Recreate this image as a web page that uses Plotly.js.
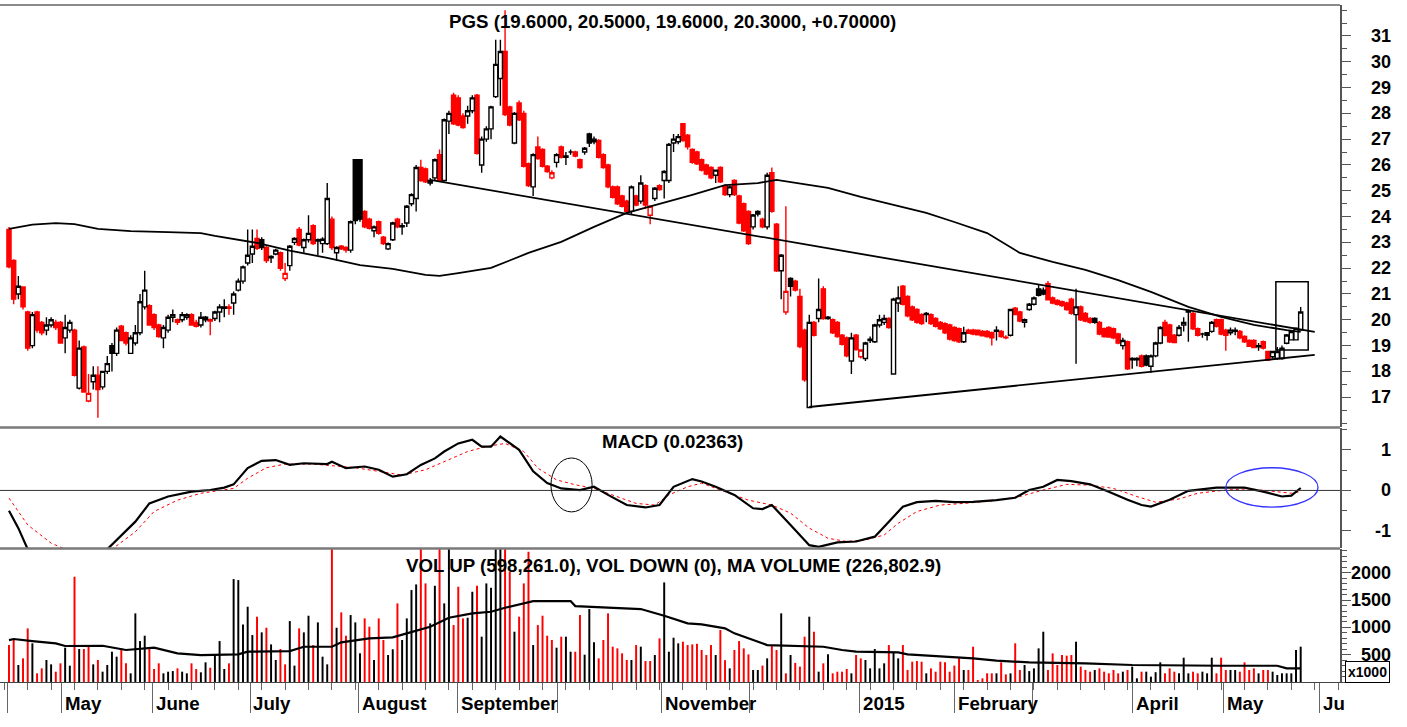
<!DOCTYPE html>
<html>
<head>
<meta charset="utf-8">
<script src="https://cdn.plot.ly/plotly-3.0.1.min.js"></script>
<style>html,body{margin:0;padding:0;background:#fff;}#chart{width:1407px;height:727px;}</style>
</head>
<body>
<div id="chart"></div>
<script>
// ---- Daily candles (trading-day index 0..276) ----
const opens = [
23.5,22.3,21.0,21.27,20.3,19.0,20.3,19.9,19.6,19.8,
19.9,19.9,19.3,19.6,19.6,17.35,18.95,16.85,17.6,17.85,
17.4,18.0,19.0,18.7,19.75,19.5,18.7,19.1,19.5,20.5,
20.55,20.2,19.8,19.3,19.6,20.1,20.0,20.0,20.1,20.2,
19.9,19.8,20.0,20.0,20.05,20.3,20.45,20.5,20.65,21.15,
21.5,22.2,22.55,23.15,23.1,22.8,22.4,22.55,22.6,21.6,
22.1,23.0,23.5,22.8,23.1,23.65,23.05,22.95,22.95,23.9,
22.6,22.85,22.8,22.7,26.2,26.2,24.2,23.9,23.45,23.8,
23.2,22.75,23.1,23.9,23.6,23.75,24.5,24.7,25.9,25.85,
25.3,25.5,26.4,25.4,27.7,28.7,28.6,27.9,27.9,28.1,
28.7,26.0,27.0,27.4,28.65,29.35,30.4,28.25,26.85,28.4,
28.0,26.05,25.15,26.7,26.6,25.95,25.5,26.1,26.7,26.3,
26.5,26.5,26.2,26.5,27.2,27.0,26.95,26.4,26.0,25.15,
25.15,24.8,24.6,24.2,24.8,24.6,25.2,24.05,24.7,25.2,
25.4,25.4,26.85,26.9,27.6,27.15,26.6,26.5,26.2,26.0,
25.9,25.6,25.9,25.2,24.85,25.4,24.8,24.5,24.2,23.6,
24.2,23.9,23.6,25.7,23.7,21.9,20.3,21.6,21.5,20.9,
19.6,16.6,19.9,20.05,21.2,20.1,20.0,19.9,19.4,19.3,
18.4,19.4,18.57,18.5,19.2,19.15,19.8,19.9,20.05,17.9,
20.65,21.3,20.9,20.5,20.4,20.2,20.2,20.2,20.05,19.9,
19.85,19.8,19.7,19.65,19.15,19.6,19.6,19.6,19.55,19.55,
19.5,19.55,19.55,19.3,19.4,20.45,20.3,19.9,20.4,20.6,
21.2,21.15,21.4,20.85,20.75,20.7,20.65,20.8,20.2,20.5,
20.25,20.05,20.05,19.9,19.65,19.7,19.65,19.45,19.0,19.15,
18.45,18.45,18.6,18.6,18.2,18.6,19.1,19.9,19.8,19.4,
19.4,19.8,20.35,20.25,19.65,19.45,19.4,19.55,20.0,20.0,
19.6,19.5,19.55,19.55,19.35,19.2,19.2,19.0,19.15,18.77,
18.57,18.5,18.5,19.09,19.22,19.22,19.6];
const highs = [
23.6,22.35,21.7,21.3,20.35,20.3,20.35,19.95,20.1,20.1,
20.0,19.95,20.2,20.0,19.65,19.2,19.0,17.9,18.2,18.2,
18.0,18.6,19.1,19.7,19.8,19.55,19.4,19.8,21.0,21.9,
20.6,20.25,19.85,19.8,20.2,20.4,20.05,20.3,20.25,20.25,
20.0,20.3,20.15,20.05,20.35,20.6,20.8,20.6,21.1,21.6,
22.1,23.5,23.5,23.5,23.2,22.9,22.5,22.75,22.65,22.2,
22.9,23.2,23.6,23.15,24.05,23.7,23.15,23.2,25.3,24.0,
22.85,22.9,22.85,23.85,26.2,26.2,24.25,23.95,23.65,23.85,
23.25,23.0,23.8,23.95,23.75,24.45,24.9,26.0,26.2,25.9,
25.5,26.25,26.6,27.8,28.1,28.8,28.7,28.0,28.3,28.7,
28.75,27.1,27.5,28.3,30.85,30.85,32.0,28.3,28.05,28.5,
28.1,26.1,26.45,27.1,26.65,26.0,25.8,26.45,26.75,26.5,
26.6,26.55,26.25,26.7,27.25,27.1,27.0,26.45,26.05,25.2,
25.2,24.85,24.65,25.2,24.85,25.6,25.25,24.4,25.15,25.25,
25.8,26.85,27.2,27.2,27.6,27.2,26.65,26.55,26.25,26.05,
25.95,25.8,25.95,25.25,25.2,25.45,24.85,24.55,24.25,24.1,
24.25,23.95,25.7,25.9,23.75,22.55,24.4,21.65,21.55,21.2,
19.65,20.2,19.95,21.6,21.3,20.15,20.05,19.95,19.45,19.35,
19.5,19.45,18.85,19.15,19.35,19.85,20.2,20.2,20.1,20.85,
21.3,21.35,20.95,20.55,20.45,20.25,20.3,20.25,20.1,19.95,
19.9,19.85,19.75,19.7,19.73,19.65,19.65,19.62,19.6,19.6,
19.55,19.75,19.6,19.4,20.4,20.5,20.35,20.05,20.65,20.9,
21.35,21.25,21.5,20.9,20.8,20.75,20.7,20.85,21.2,20.55,
20.3,20.1,20.1,19.95,19.7,19.75,19.7,19.5,19.3,19.2,
18.55,18.55,18.65,18.65,18.65,19.15,19.75,20.0,19.85,19.45,
19.8,20.1,20.4,20.3,19.7,19.5,19.5,19.95,20.05,20.05,
19.65,19.7,19.7,19.6,19.4,19.25,19.25,19.1,19.2,18.8,
18.8,18.95,19.0,19.45,19.6,19.7,20.5];
const lows = [
22.0,20.6,20.8,20.4,18.8,18.9,19.5,19.4,19.4,19.7,
19.6,19.1,18.7,19.5,17.8,17.3,17.2,16.8,17.3,16.2,
17.3,17.9,18.0,18.6,19.2,19.0,18.7,19.0,19.4,20.4,
19.8,19.6,19.3,18.9,19.5,19.9,19.8,19.9,20.0,19.8,
19.7,19.7,19.9,19.4,19.95,19.9,20.1,20.2,20.2,21.1,
21.4,22.1,22.2,22.7,22.7,22.2,22.2,22.5,21.9,21.5,
21.9,22.9,22.85,22.6,23.0,22.9,22.5,22.6,22.9,22.7,
22.3,22.7,22.6,22.6,23.7,23.8,23.55,23.5,23.2,23.3,
22.9,22.7,23.05,23.55,23.3,23.6,24.4,24.2,25.35,25.3,
25.2,25.4,25.35,25.35,27.2,27.55,27.5,27.4,27.6,28.0,
26.4,25.7,26.9,27.0,28.6,28.3,27.9,27.5,26.8,27.7,
25.9,25.15,24.8,26.2,25.9,25.7,25.45,25.9,26.25,26.0,
26.4,26.3,25.85,26.4,26.7,26.8,26.25,25.85,25.1,24.7,
24.45,24.35,24.15,24.1,24.4,24.5,24.3,23.7,24.6,25.0,
24.7,25.3,26.5,26.8,26.9,26.6,26.05,26.0,25.75,25.6,
25.45,25.3,25.3,24.8,24.75,24.8,23.7,23.4,22.9,23.5,
24.0,23.55,23.5,24.15,21.85,20.8,20.2,20.9,21.1,18.9,
17.6,16.6,19.35,19.9,20.0,20.0,19.45,19.3,19.0,18.55,
17.9,18.8,18.5,18.4,19.1,19.1,19.7,19.8,19.65,17.9,
20.3,20.55,20.1,19.95,19.85,19.8,19.9,19.8,19.7,19.6,
19.45,19.2,19.15,19.1,19.1,19.45,19.4,19.4,19.35,19.3,
19.0,19.2,19.3,19.25,19.35,20.2,19.9,19.7,20.35,20.55,
20.9,20.95,20.75,20.6,20.55,20.5,20.35,20.2,18.3,19.95,
19.9,19.85,19.85,19.4,19.3,19.3,19.25,19.05,18.85,18.05,
18.1,18.2,18.15,18.2,17.95,18.55,19.05,19.35,19.1,19.1,
19.35,19.55,19.15,19.6,19.35,19.3,19.2,19.5,19.7,19.4,
18.8,19.4,19.4,19.25,19.1,18.95,18.9,18.8,18.85,18.4,
18.5,18.45,18.45,19.05,19.2,19.2,19.6];
const closes = [
22.05,20.8,21.3,20.5,18.9,20.2,19.6,19.5,19.8,20.0,
19.7,19.1,19.7,19.9,17.85,18.9,17.2,17.15,17.85,17.3,
18.0,18.3,18.7,19.6,19.2,19.1,19.3,19.5,20.7,21.15,
19.8,19.7,19.35,19.7,20.1,20.2,19.9,20.2,20.2,19.8,
19.75,20.1,20.1,19.95,20.3,20.5,20.5,20.45,21.0,21.5,
22.05,22.5,22.85,22.77,22.8,22.3,22.45,22.7,22.0,21.8,
22.85,23.15,22.9,23.1,23.35,22.95,23.1,23.12,24.7,22.8,
22.8,22.75,22.7,23.8,23.85,23.9,23.6,23.55,23.6,23.35,
22.95,22.95,23.75,23.6,23.65,24.4,24.85,25.9,25.4,25.35,
25.4,26.2,25.4,27.75,28.0,27.6,27.55,27.45,28.1,28.6,
26.45,27.0,27.4,28.25,29.9,30.4,27.95,27.55,28.0,27.75,
25.95,25.2,26.4,26.25,25.95,25.75,25.7,26.4,26.3,26.35,
26.5,26.35,25.9,26.65,26.85,26.9,26.3,25.9,25.15,24.75,
24.5,24.4,24.2,25.15,24.45,25.3,24.45,24.4,25.1,25.05,
25.75,26.8,27.0,27.1,26.95,26.7,26.1,26.05,25.8,25.65,
25.5,25.8,25.35,24.85,25.15,24.85,23.75,23.45,22.95,24.06,
24.1,23.6,25.6,24.2,21.9,22.5,21.1,21.3,21.15,18.96,
17.67,19.9,19.4,20.4,20.05,20.05,19.5,19.35,19.05,18.6,
19.3,18.85,18.83,19.1,19.25,19.8,20.0,20.05,19.7,20.8,
20.85,20.6,20.15,20.0,19.9,19.85,20.25,19.85,19.75,19.65,
19.5,19.25,19.2,19.15,19.5,19.48,19.45,19.42,19.38,19.35,
19.3,19.6,19.35,19.33,20.4,20.2,19.95,20.0,20.6,20.85,
20.95,21.0,20.77,20.65,20.6,20.55,20.4,20.25,20.5,20.0,
19.95,19.9,19.9,19.45,19.35,19.33,19.3,19.1,19.2,18.1,
18.5,18.5,18.2,18.25,18.6,19.1,19.7,19.4,19.15,19.12,
19.7,19.9,20.3,19.65,19.4,19.45,19.5,19.9,19.75,19.45,
19.4,19.6,19.6,19.3,19.15,18.97,18.92,18.95,18.9,18.44,
18.77,18.77,18.9,19.41,19.54,19.67,20.3];
// daily volume, thousands of shares
const volumes = [
677,769,311,433,982,708,159,250,403,323,
189,342,628,299,1928,604,604,647,323,403,
189,311,555,464,616,342,159,1257,750,848,
604,238,342,159,189,200,250,189,159,342,
238,177,360,262,494,750,238,342,1885,1867,
1055,1379,860,1196,909,994,689,403,604,323,
1116,300,982,909,1214,677,1092,464,323,2600,
994,1275,848,1226,1092,525,1165,1013,403,1165,
769,494,600,1440,769,1165,1684,1787,2600,1806,
1074,1763,2600,1440,2600,1043,1745,1165,1177,1653,
1763,830,1806,1726,2600,2600,2600,2019,921,1196,
1806,2385,677,1043,1214,848,769,628,830,830,
555,555,1226,500,1336,726,433,769,1257,647,
616,525,403,403,677,647,384,384,494,799,
1824,555,811,708,738,677,689,700,586,494,
677,494,952,400,250,586,750,616,506,220,
220,300,433,665,586,1257,159,494,350,281,
830,1196,921,189,342,506,159,189,189,238,
159,494,433,403,250,604,250,342,677,543,
433,677,220,372,384,372,159,250,189,372,
360,189,300,433,220,220,647,37,67,159,
159,159,360,140,159,708,220,311,200,250,
616,921,220,525,311,494,482,494,738,281,
220,189,220,250,189,159,220,159,189,220,
281,67,189,189,98,180,360,159,250,189,
159,445,159,189,159,189,159,445,159,445,
220,220,220,189,360,220,250,159,220,220,
189,128,159,159,159,586,647];

// ---- Overlays: [dayIndex, value] ----
const priceMA = [[0,23.52],[5,23.69],[10,23.75],[14,23.71],[19,23.52],[26,23.44],[34,23.40],[41,23.36],[44,23.25],[48,23.13],[53,22.98],[60,22.68],[68,22.40],[75,22.12],[82,21.97],[89,21.74],[92,21.70],[96,21.81],[103,22.01],[111,22.59],[118,23.02],[125,23.60],[132,24.14],[139,24.49],[146,24.84],[153,25.22],[160,25.30],[164,25.42],[168,25.30],[175,25.11],[182,24.76],[189,24.45],[196,24.14],[202,23.79],[209,23.36],[216,22.59],[223,22.24],[230,21.93],[237,21.54],[244,21.08],[252,20.50],[259,20.11],[266,19.80],[273,19.60],[276,19.53]];
const upperTrend = [[90,25.42],[279,19.53]];
const lowerTrend = [[171,16.62],[279,18.64]];
const macdLine = [[0,-0.5],[2,-0.93],[4,-1.45],[8,-1.75],[14,-1.85],[19,-1.65],[21,-1.45],[24,-1.10],[27,-0.77],[30,-0.32],[34,-0.15],[39,-0.03],[43,0.01],[46,0.07],[48,0.15],[51,0.55],[54,0.73],[57,0.75],[60,0.63],[63,0.67],[68,0.65],[69,0.71],[72,0.55],[76,0.59],[79,0.51],[82,0.34],[85,0.40],[88,0.63],[91,0.79],[93,0.96],[96,1.16],[99,1.25],[101,1.08],[103,1.08],[105,1.33],[109,1.00],[112,0.47],[115,0.18],[118,0.05],[122,0.01],[125,0.09],[128,-0.11],[132,-0.36],[136,-0.42],[139,-0.36],[142,0.09],[146,0.28],[148,0.22],[151,0.09],[155,-0.11],[159,-0.44],[161,-0.46],[163,-0.36],[167,-0.85],[171,-1.35],[173,-1.39],[177,-1.28],[181,-1.26],[185,-1.14],[188,-0.77],[191,-0.40],[194,-0.29],[198,-0.26],[202,-0.29],[206,-0.28],[211,-0.24],[215,-0.18],[218,0.01],[221,0.09],[224,0.26],[227,0.23],[231,0.15],[235,-0.03],[239,-0.23],[242,-0.36],[244,-0.40],[248,-0.23],[252,-0.01],[258,0.07],[264,0.07],[268,-0.03],[272,-0.15],[274,-0.13],[276,0.06]];
const signalLine = [[0,-0.19],[4,-0.85],[9,-1.30],[12,-1.44],[15,-1.6],[19,-1.6],[22,-1.45],[27,-1.02],[31,-0.52],[36,-0.24],[41,-0.07],[48,0.05],[51,0.30],[55,0.56],[59,0.65],[65,0.65],[70,0.61],[74,0.56],[79,0.47],[84,0.38],[89,0.51],[93,0.71],[98,0.96],[102,1.08],[106,1.16],[110,0.96],[113,0.55],[117,0.26],[121,0.14],[125,0.05],[130,-0.15],[134,-0.32],[138,-0.36],[141,-0.11],[145,0.09],[148,0.18],[153,-0.03],[158,-0.24],[163,-0.36],[167,-0.56],[171,-0.93],[175,-1.18],[179,-1.26],[183,-1.22],[187,-1.10],[190,-0.81],[194,-0.52],[199,-0.36],[204,-0.32],[210,-0.26],[216,-0.15],[221,0.01],[226,0.15],[231,0.13],[236,0.05],[241,-0.15],[245,-0.29],[250,-0.21],[254,-0.07],[260,0.01],[265,0.04],[270,-0.03],[274,-0.07],[276,-0.03]];
const volumeMA = [[0,768],[1,787],[5,750],[10,708],[12,659],[20,664],[25,586],[31,628],[36,525],[41,494],[49,507],[51,555],[60,567],[63,646],[69,646],[71,726],[77,799],[82,818],[85,891],[90,1012],[94,1177],[99,1257],[103,1287],[106,1360],[112,1482],[120,1482],[121,1391],[131,1360],[135,1336],[140,1214],[145,1074],[148,1056],[153,982],[155,891],[159,769],[162,677],[174,646],[178,586],[181,555],[190,543],[192,507],[201,463],[206,433],[211,390],[218,360],[230,342],[240,311],[259,298],[271,298],[273,250],[276,250]];

// ---- Axis text ----
const monthBounds = [-0.4,11.3,30.6,51.5,74.6,95.9,117.1,139.5,158.3,181.8,202.1,218.8,240.0,259.6,280.1];
const monthLabelAt = [11.3,30.6,51.5,74.6,95.9,139.5,181.8,202.1,240.0,259.6,280.1];
const monthLabels = ['May','June','July','August','September','November','2015','February','April','May','Ju'];
const priceTicks = [17,18,19,20,21,22,23,24,25,26,27,28,29,30,31];
const macdTicks = [-1,0,1];
const macdTickText = ['-1','0','1'];
const volTicks = [500,1000,1500,2000];
const titleText = 'PGS (19.6000, 20.5000, 19.6000, 20.3000, +0.70000)';
const macdTitle = 'MACD (0.02363)';
const volTitle = 'VOL UP (598,261.0), VOL DOWN (0), MA VOLUME (226,802.9)';
// marked areas [x0, x1, y0, y1]
const breakoutBox = [270.7, 277.6, 18.83, 21.47];
const macdCircleBlack = [115.8, 124.6, -0.53, 0.80];
const macdCircleBlue = [260, 279.7, -0.41, 0.56];

// ---- build ----
const idx = closes.map((_, i) => i);
const upDay = closes.map((c, i) => i > 0 && c >= closes[i - 1]);
const sel = (arr, want) => arr.filter((_, i) => upDay[i] === want);
const FONT = 'Liberation Sans, Arial, sans-serif';

function candle(want, col) {
  return {
    type: 'candlestick', xaxis: 'x', yaxis: 'y',
    x: sel(idx, want), open: sel(opens, want), high: sel(highs, want),
    low: sel(lows, want), close: sel(closes, want),
    increasing: {line: {color: col, width: 1.4}, fillcolor: '#ffffff'},
    decreasing: {line: {color: col, width: 1.4}, fillcolor: col},
    whiskerwidth: 0, hoverinfo: 'skip'
  };
}
const line = (pts, yaxis, color, width, dash) => ({
  type: 'scatter', mode: 'lines', xaxis: 'x', yaxis: yaxis,
  x: pts.map(p => p[0]), y: pts.map(p => p[1]),
  line: {color: color, width: width, dash: dash || 'solid'}, hoverinfo: 'skip'
});

const traces = [
  {type: 'bar', xaxis: 'x', yaxis: 'y3', x: idx, y: volumes, width: 0.42,
   marker: {color: upDay.map(u => u ? '#000000' : '#ff0000'), line: {width: 0}}, hoverinfo: 'skip'},
  line(volumeMA, 'y3', '#000', 2.2),
  line(priceMA, 'y', '#000', 1.8),
  line(upperTrend, 'y', '#000', 1.8),
  line(lowerTrend, 'y', '#000', 1.8),
  candle(false, '#ff0000'),
  candle(true, '#000000'),
  line(signalLine, 'y2', '#ff0000', 1, 'dot'),
  line(macdLine, 'y2', '#000', 2.2)
];

const plotTop = 5, plotBottom = 682, plotH = plotBottom - plotTop, plotRight = 1340;
const py = px => (plotBottom - px) / plotH;
const pxX = px => px / plotRight;
const TXT = 18.7;

const yCommon = {
  side: 'right', anchor: 'x', showline: true, linecolor: '#555', linewidth: 1.5,
  ticks: 'outside', ticklen: 9, tickcolor: '#555', tickwidth: 1,
  showticklabels: false, showgrid: false, zeroline: false, fixedrange: true
};

const annotations = [];
const addLabel = (text, x, y, yref, xanchor, size) => annotations.push({
  text: '<b>' + text + '</b>', x: x, y: y, xref: 'paper', yref: yref,
  xanchor: xanchor, yanchor: 'middle', showarrow: false,
  font: {family: FONT, size: size, color: '#000'}
});
priceTicks.forEach(v => addLabel(String(v), 1393 / plotRight, v, 'y', 'right', 18));
macdTicks.forEach((v, i) => addLabel(macdTickText[i], 1393 / plotRight, v, 'y2', 'right', 18));
volTicks.forEach(v => addLabel(String(v), 1393 / plotRight, v, 'y3', 'right', 18));
addLabel(titleText, pxX(672), py(22), 'paper', 'center', TXT);
addLabel(macdTitle, pxX(672), py(441), 'paper', 'center', TXT);
addLabel(volTitle, pxX(673), py(565), 'paper', 'center', TXT);
monthLabels.forEach((m, i) => annotations.push({
  text: '<b>' + m + '</b>', x: monthLabelAt[i] + 0.3, y: py(703), xref: 'x', yref: 'paper',
  xanchor: 'left', yanchor: 'middle', showarrow: false,
  font: {family: FONT, size: TXT, color: '#000'}
}));
annotations.push({
  text: '<b>x1000</b>', x: pxX(1367), y: py(672), xref: 'paper', yref: 'paper',
  xanchor: 'center', yanchor: 'middle', showarrow: false, bgcolor: '#fff',
  bordercolor: '#000', borderwidth: 1, borderpad: 2,
  font: {family: FONT, size: 14, color: '#000'}
});

const hline = (y, color, width) => ({type: 'line', xref: 'paper', yref: 'paper', x0: 0, x1: 1, y0: y, y1: y,
  line: {color: color, width: width}});
const shapes = [
  hline(1, '#8a8a8a', 2),
  hline(py(427.5), '#7a7a7a', 2.5),
  hline(py(548.5), '#7a7a7a', 2.5),
  {type: 'line', xref: 'paper', yref: 'y2', x0: 0, x1: 1, y0: 0, y1: 0, line: {color: '#333', width: 1}},
  {type: 'rect', xref: 'x', yref: 'y', x0: breakoutBox[0], x1: breakoutBox[1], y0: breakoutBox[2], y1: breakoutBox[3],
   line: {color: '#000', width: 1.5}},
  {type: 'circle', xref: 'x', yref: 'y2', x0: macdCircleBlack[0], x1: macdCircleBlack[1], y0: macdCircleBlack[2], y1: macdCircleBlack[3],
   line: {color: '#000', width: 1}},
  {type: 'circle', xref: 'x', yref: 'y2', x0: macdCircleBlue[0], x1: macdCircleBlue[1], y0: macdCircleBlue[2], y1: macdCircleBlue[3],
   line: {color: '#3333ff', width: 1.3}}
];

const layout = {
  width: 1407, height: 727,
  margin: {l: 0, r: 1407 - plotRight, t: plotTop, b: 727 - plotBottom},
  paper_bgcolor: '#fff', plot_bgcolor: '#fff', showlegend: false, hovermode: false,
  boxgap: 0.12, boxgroupgap: 0,
  font: {family: FONT, color: '#000'},
  xaxis: {
    domain: [0, 1], range: [-1.92, 284.4], anchor: 'y3',
    showline: true, linecolor: '#444', linewidth: 1,
    tickmode: 'array', tickvals: monthBounds, ticks: 'outside', ticklen: 30, tickcolor: '#666', tickwidth: 1,
    showticklabels: false, showgrid: false, zeroline: false, fixedrange: true,
    rangeslider: {visible: false},
    minor: {tickmode: 'linear', tick0: 4, dtick: 5, ticks: 'outside', ticklen: 7, tickcolor: '#666', tickwidth: 1, showgrid: false}
  },
  yaxis: Object.assign({}, yCommon, {domain: [py(427), 1], range: [15.845, 32.2],
    tickmode: 'array', tickvals: priceTicks,
    minor: {tickmode: 'linear', tick0: 0, dtick: 0.5, ticks: 'outside', ticklen: 5, tickcolor: '#555', showgrid: false}}),
  yaxis2: Object.assign({}, yCommon, {domain: [py(548), py(428)], range: [-1.42, 1.54],
    tickmode: 'array', tickvals: macdTicks,
    minor: {tickmode: 'linear', tick0: 0, dtick: 0.5, ticks: 'outside', ticklen: 5, tickcolor: '#555', showgrid: false}}),
  yaxis3: Object.assign({}, yCommon, {domain: [0, py(549)], range: [0, 2436],
    tickmode: 'array', tickvals: volTicks,
    minor: {tickmode: 'linear', tick0: 0, dtick: 100, ticks: 'outside', ticklen: 5, tickcolor: '#555', showgrid: false}}),
  shapes: shapes,
  annotations: annotations
};

Plotly.newPlot('chart', traces, layout, {staticPlot: true, displayModeBar: false});
</script>
</body>
</html>
